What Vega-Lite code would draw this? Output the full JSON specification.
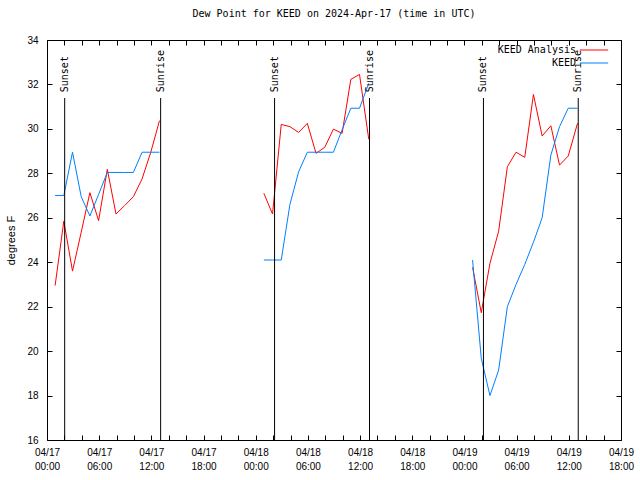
{
  "$schema": "https://vega.github.io/schema/vega-lite/v6.json",
  "width": 574,
  "height": 400,
  "autosize": {"type": "none"},
  "padding": {"left": 47, "top": 40, "right": 19, "bottom": 40},
  "background": "white",
  "title": {"text": "Dew Point for KEED on 2024-Apr-17 (time in UTC)", "font": "DejaVu Sans Mono", "fontSize": 10, "fontWeight": "normal", "color": "black", "offset": 16, "anchor": "middle"},
  "config": {
    "view": {"stroke": "black", "strokeWidth": 1},
    "axis": {"grid": false, "domain": false, "zindex": 1, "tickColor": "black", "tickWidth": 1, "tickSize": -5, "labelColor": "black", "titleColor": "black", "labelFont": "Liberation Sans", "labelFontSize": 10, "titleFont": "Liberation Sans", "titleFontSize": 11, "titleFontWeight": "normal"}
  },
  "datasets": {
    "obs": [
      {"t": "2024-04-17T00:56:00Z", "v": 22.95, "series": "KEED Analysis", "seg": 1},
      {"t": "2024-04-17T01:56:00Z", "v": 25.85, "series": "KEED Analysis", "seg": 1},
      {"t": "2024-04-17T02:56:00Z", "v": 23.6, "series": "KEED Analysis", "seg": 1},
      {"t": "2024-04-17T03:56:00Z", "v": 25.35, "series": "KEED Analysis", "seg": 1},
      {"t": "2024-04-17T04:56:00Z", "v": 27.13, "series": "KEED Analysis", "seg": 1},
      {"t": "2024-04-17T05:56:00Z", "v": 25.87, "series": "KEED Analysis", "seg": 1},
      {"t": "2024-04-17T06:56:00Z", "v": 28.18, "series": "KEED Analysis", "seg": 1},
      {"t": "2024-04-17T07:56:00Z", "v": 26.17, "series": "KEED Analysis", "seg": 1},
      {"t": "2024-04-17T08:56:00Z", "v": 26.55, "series": "KEED Analysis", "seg": 1},
      {"t": "2024-04-17T09:56:00Z", "v": 26.95, "series": "KEED Analysis", "seg": 1},
      {"t": "2024-04-17T10:56:00Z", "v": 27.75, "series": "KEED Analysis", "seg": 1},
      {"t": "2024-04-17T11:56:00Z", "v": 28.95, "series": "KEED Analysis", "seg": 1},
      {"t": "2024-04-17T12:56:00Z", "v": 30.37, "series": "KEED Analysis", "seg": 1},
      {"t": "2024-04-18T00:56:00Z", "v": 27.1, "series": "KEED Analysis", "seg": 2},
      {"t": "2024-04-18T01:56:00Z", "v": 26.17, "series": "KEED Analysis", "seg": 2},
      {"t": "2024-04-18T02:56:00Z", "v": 30.2, "series": "KEED Analysis", "seg": 2},
      {"t": "2024-04-18T03:56:00Z", "v": 30.1, "series": "KEED Analysis", "seg": 2},
      {"t": "2024-04-18T04:56:00Z", "v": 29.84, "series": "KEED Analysis", "seg": 2},
      {"t": "2024-04-18T05:56:00Z", "v": 30.25, "series": "KEED Analysis", "seg": 2},
      {"t": "2024-04-18T06:56:00Z", "v": 28.9, "series": "KEED Analysis", "seg": 2},
      {"t": "2024-04-18T07:56:00Z", "v": 29.17, "series": "KEED Analysis", "seg": 2},
      {"t": "2024-04-18T08:56:00Z", "v": 29.99, "series": "KEED Analysis", "seg": 2},
      {"t": "2024-04-18T09:56:00Z", "v": 29.8, "series": "KEED Analysis", "seg": 2},
      {"t": "2024-04-18T10:56:00Z", "v": 32.23, "series": "KEED Analysis", "seg": 2},
      {"t": "2024-04-18T11:56:00Z", "v": 32.45, "series": "KEED Analysis", "seg": 2},
      {"t": "2024-04-18T13:00:00Z", "v": 29.53, "series": "KEED Analysis", "seg": 2},
      {"t": "2024-04-19T00:56:00Z", "v": 23.77, "series": "KEED Analysis", "seg": 3},
      {"t": "2024-04-19T01:56:00Z", "v": 21.73, "series": "KEED Analysis", "seg": 3},
      {"t": "2024-04-19T02:56:00Z", "v": 23.95, "series": "KEED Analysis", "seg": 3},
      {"t": "2024-04-19T03:56:00Z", "v": 25.4, "series": "KEED Analysis", "seg": 3},
      {"t": "2024-04-19T04:56:00Z", "v": 28.3, "series": "KEED Analysis", "seg": 3},
      {"t": "2024-04-19T05:56:00Z", "v": 28.95, "series": "KEED Analysis", "seg": 3},
      {"t": "2024-04-19T06:56:00Z", "v": 28.72, "series": "KEED Analysis", "seg": 3},
      {"t": "2024-04-19T07:56:00Z", "v": 31.55, "series": "KEED Analysis", "seg": 3},
      {"t": "2024-04-19T08:56:00Z", "v": 29.68, "series": "KEED Analysis", "seg": 3},
      {"t": "2024-04-19T09:56:00Z", "v": 30.14, "series": "KEED Analysis", "seg": 3},
      {"t": "2024-04-19T10:56:00Z", "v": 28.37, "series": "KEED Analysis", "seg": 3},
      {"t": "2024-04-19T11:56:00Z", "v": 28.78, "series": "KEED Analysis", "seg": 3},
      {"t": "2024-04-19T13:00:00Z", "v": 30.25, "series": "KEED Analysis", "seg": 3},
      {"t": "2024-04-17T00:56:00Z", "v": 27.0, "series": "KEED", "seg": 1},
      {"t": "2024-04-17T01:56:00Z", "v": 27.0, "series": "KEED", "seg": 1},
      {"t": "2024-04-17T02:56:00Z", "v": 28.95, "series": "KEED", "seg": 1},
      {"t": "2024-04-17T03:56:00Z", "v": 26.95, "series": "KEED", "seg": 1},
      {"t": "2024-04-17T04:56:00Z", "v": 26.08, "series": "KEED", "seg": 1},
      {"t": "2024-04-17T05:56:00Z", "v": 27.05, "series": "KEED", "seg": 1},
      {"t": "2024-04-17T06:56:00Z", "v": 28.04, "series": "KEED", "seg": 1},
      {"t": "2024-04-17T07:56:00Z", "v": 28.04, "series": "KEED", "seg": 1},
      {"t": "2024-04-17T08:56:00Z", "v": 28.04, "series": "KEED", "seg": 1},
      {"t": "2024-04-17T09:56:00Z", "v": 28.04, "series": "KEED", "seg": 1},
      {"t": "2024-04-17T10:56:00Z", "v": 28.95, "series": "KEED", "seg": 1},
      {"t": "2024-04-17T11:56:00Z", "v": 28.95, "series": "KEED", "seg": 1},
      {"t": "2024-04-17T12:56:00Z", "v": 28.95, "series": "KEED", "seg": 1},
      {"t": "2024-04-18T00:56:00Z", "v": 24.1, "series": "KEED", "seg": 2},
      {"t": "2024-04-18T01:56:00Z", "v": 24.1, "series": "KEED", "seg": 2},
      {"t": "2024-04-18T02:56:00Z", "v": 24.1, "series": "KEED", "seg": 2},
      {"t": "2024-04-18T03:56:00Z", "v": 26.6, "series": "KEED", "seg": 2},
      {"t": "2024-04-18T04:56:00Z", "v": 28.07, "series": "KEED", "seg": 2},
      {"t": "2024-04-18T05:56:00Z", "v": 28.95, "series": "KEED", "seg": 2},
      {"t": "2024-04-18T06:56:00Z", "v": 28.95, "series": "KEED", "seg": 2},
      {"t": "2024-04-18T07:56:00Z", "v": 28.95, "series": "KEED", "seg": 2},
      {"t": "2024-04-18T08:56:00Z", "v": 28.95, "series": "KEED", "seg": 2},
      {"t": "2024-04-18T09:56:00Z", "v": 29.96, "series": "KEED", "seg": 2},
      {"t": "2024-04-18T10:56:00Z", "v": 30.93, "series": "KEED", "seg": 2},
      {"t": "2024-04-18T11:56:00Z", "v": 30.93, "series": "KEED", "seg": 2},
      {"t": "2024-04-18T13:00:00Z", "v": 32.05, "series": "KEED", "seg": 2},
      {"t": "2024-04-19T00:56:00Z", "v": 24.1, "series": "KEED", "seg": 3},
      {"t": "2024-04-19T01:56:00Z", "v": 19.67, "series": "KEED", "seg": 3},
      {"t": "2024-04-19T02:56:00Z", "v": 18.0, "series": "KEED", "seg": 3},
      {"t": "2024-04-19T03:56:00Z", "v": 19.15, "series": "KEED", "seg": 3},
      {"t": "2024-04-19T04:56:00Z", "v": 22.0, "series": "KEED", "seg": 3},
      {"t": "2024-04-19T05:56:00Z", "v": 23.0, "series": "KEED", "seg": 3},
      {"t": "2024-04-19T06:56:00Z", "v": 23.9, "series": "KEED", "seg": 3},
      {"t": "2024-04-19T07:56:00Z", "v": 24.9, "series": "KEED", "seg": 3},
      {"t": "2024-04-19T08:56:00Z", "v": 26.0, "series": "KEED", "seg": 3},
      {"t": "2024-04-19T09:56:00Z", "v": 28.82, "series": "KEED", "seg": 3},
      {"t": "2024-04-19T10:56:00Z", "v": 30.1, "series": "KEED", "seg": 3},
      {"t": "2024-04-19T11:56:00Z", "v": 30.93, "series": "KEED", "seg": 3},
      {"t": "2024-04-19T13:00:00Z", "v": 30.93, "series": "KEED", "seg": 3}
    ],
    "sun": [
      {"t": "2024-04-17T02:02:00Z", "label": "Sunset"},
      {"t": "2024-04-17T13:04:00Z", "label": "Sunrise"},
      {"t": "2024-04-18T02:10:00Z", "label": "Sunset"},
      {"t": "2024-04-18T13:05:00Z", "label": "Sunrise"},
      {"t": "2024-04-19T02:11:00Z", "label": "Sunset"},
      {"t": "2024-04-19T13:05:00Z", "label": "Sunrise"}
    ]
  },
  "layer": [
    {
      "data": {"name": "obs"},
      "mark": {"type": "line", "strokeWidth": 1},
      "encoding": {
        "x": {
          "field": "t", "type": "temporal",
          "scale": {"type": "utc", "domain": [1713312000000, 1713549600000], "nice": false},
          "axis": {
            "orient": "bottom", "title": null, "labelOverlap": false, "labelFlush": false,
            "values": [1713312000000, 1713319200000, 1713326400000, 1713333600000, 1713340800000, 1713348000000, 1713355200000, 1713362400000, 1713369600000, 1713376800000, 1713384000000, 1713391200000, 1713398400000, 1713405600000, 1713412800000, 1713420000000, 1713427200000, 1713434400000, 1713441600000, 1713448800000, 1713456000000, 1713463200000, 1713470400000, 1713477600000, 1713484800000, 1713492000000, 1713499200000, 1713506400000, 1713513600000, 1713520800000, 1713528000000, 1713535200000, 1713542400000, 1713549600000],
            "labelExpr": "utchours(datum.value) % 6 == 0 ? [utcFormat(datum.value, '%m/%d'), utcFormat(datum.value, '%H:%M')] : ''",
            "labelPadding": 12, "labelLineHeight": 14, "labelBaseline": "top"
          }
        },
        "y": {
          "field": "v", "type": "quantitative",
          "scale": {"domain": [16, 34], "nice": false, "zero": false},
          "axis": {"orient": "left", "values": [16, 18, 20, 22, 24, 26, 28, 30, 32, 34], "title": "degrees F", "labelPadding": 14, "titlePadding": 10}
        },
        "color": {
          "field": "series", "type": "nominal",
          "scale": {"domain": ["KEED Analysis", "KEED"], "range": ["#ff0000", "#0080ff"]},
          "legend": {"orient": "none", "legendX": 539, "legendY": 2, "title": null, "symbolType": "M-2,0L2,0", "symbolStrokeWidth": 1, "symbolSize": 200, "labelFont": "DejaVu Sans Mono", "labelFontSize": 10, "labelColor": "black", "labelAlign": "right", "labelOffset": -26, "padding": 0, "rowPadding": 0}
        },
        "detail": {"field": "seg"}
      }
    },
    {
      "data": {"name": "sun"},
      "mark": {"type": "rule", "color": "black", "strokeWidth": 1},
      "encoding": {
        "x": {"field": "t", "type": "temporal", "axis": null},
        "y": {"datum": 31.39, "type": "quantitative", "axis": null},
        "y2": {"datum": 16}
      }
    },
    {
      "data": {"name": "sun"},
      "mark": {"type": "text", "angle": 270, "align": "left", "baseline": "middle", "font": "DejaVu Sans Mono", "fontSize": 10, "color": "black"},
      "encoding": {
        "x": {"field": "t", "type": "temporal", "axis": null},
        "y": {"datum": 31.65, "type": "quantitative", "axis": null},
        "text": {"field": "label"}
      }
    },
    {
      "data": {"name": "obs"},
      "mark": {"type": "point", "opacity": 0},
      "encoding": {
        "x": {
          "field": "t", "type": "temporal",
          "axis": {"orient": "top", "title": null, "labels": false,
            "values": [1713312000000, 1713319200000, 1713326400000, 1713333600000, 1713340800000, 1713348000000, 1713355200000, 1713362400000, 1713369600000, 1713376800000, 1713384000000, 1713391200000, 1713398400000, 1713405600000, 1713412800000, 1713420000000, 1713427200000, 1713434400000, 1713441600000, 1713448800000, 1713456000000, 1713463200000, 1713470400000, 1713477600000, 1713484800000, 1713492000000, 1713499200000, 1713506400000, 1713513600000, 1713520800000, 1713528000000, 1713535200000, 1713542400000, 1713549600000]}
        },
        "y": {"field": "v", "type": "quantitative", "axis": {"orient": "right", "title": null, "labels": false, "values": [16, 18, 20, 22, 24, 26, 28, 30, 32, 34]}}
      }
    }
  ],
  "resolve": {"axis": {"x": "independent", "y": "independent"}}
}
